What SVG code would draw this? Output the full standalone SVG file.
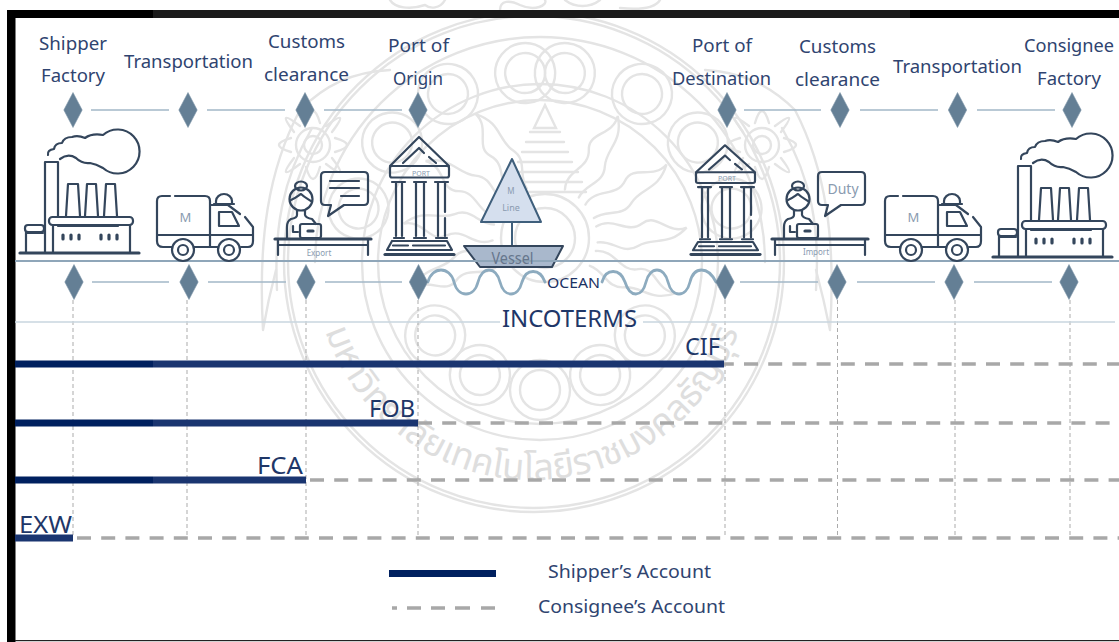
<svg xmlns="http://www.w3.org/2000/svg" width="1119" height="642" viewBox="0 0 1119 642">
<style>
text{font-family:"Noto Sans","Liberation Sans",sans-serif}
.lb{font-size:18px;fill:#2f4470;text-anchor:middle}
.inc{font-size:23px;fill:#1f3768}
.sm{fill:#8a9bb0;text-anchor:middle}
.ic{fill:none;stroke:#34465c;stroke-width:2.2;stroke-linecap:round;stroke-linejoin:round}
.ict{fill:none;stroke:#34465c;stroke-width:3.2;stroke-linecap:round;stroke-linejoin:round}
.dm{fill:#647f95;stroke:#7f97a9;stroke-width:.6}
.tie{stroke:#a3b8c8;stroke-width:1.6;fill:none}
.drop{stroke:#ababab;stroke-width:1;stroke-dasharray:4 3;fill:none}
.dash{stroke:#a8a8a8;stroke-width:3.4;stroke-dasharray:14 10.2;fill:none}
.wm{fill:none;stroke:#e4e4e4;stroke-width:2.4;stroke-linecap:round}
.wave{fill:none;stroke:#8dabbf;stroke-width:2.8;stroke-linecap:round}
</style>
<defs>
<polygon id="d" class="dm" points="0,-17.500 9.200,0 0,17.500 -9.200,0"/>
<path id="flame" d="M-7,-52C-16,-70 4,-82 -6,-98C-16,-114 8,-122 2,-142C20,-122 8,-108 16,-92C24,-76 8,-68 9,-52"/>
<g id="lobe"><circle r="30"/><circle r="20"/></g>
<g id="flower"><circle r="17"/><circle r="9"/><path d="M-7,-22Q0,-46 7,-22M-7,22Q0,46 7,22M-22,-7Q-46,0 -22,7M22,-7Q46,0 22,7M-19,-13Q-38,-38 -13,-19M19,-13Q38,-38 13,-19M-19,13Q-38,38 -13,19M19,13Q38,38 13,19"/></g>
<g id="factory">
<path class="ict" d="M20,253H139"/>
<path class="ic" d="M45,252V162H58V217M66,216L68,184H78L80,216M85,216L87,184H96L98,216M104,216L106,184H115L117,216"/>
<rect class="ic" x="49" y="217" width="84" height="8" rx="3.500"/>
<path class="ic" d="M53,225V252M130,225V252M58,226H118M26,232V252M43,233H27"/>
<rect class="ic" x="25" y="225" width="19" height="7" rx="3"/>
<path class="ict" d="M63,235v4M71,235v4M79,235v4M101,235v4M109,235v4M117,235v4"/>
<path class="ic" d="M48,155Q47,150 54,149Q55,143 62,143Q64,137 72,137Q78,135 85,138Q92,133 103,135A22,22 0 1 1 103,168Q96,164 90,163Q82,164 76,158Q68,153 60,159"/>
</g>
<g id="truck">
<path class="ic" d="M175,196H205Q210,196 210,201V247M170,196H162Q157,196 157,201V241Q157,247 163,247H172M157,235H252M194,247H218M210,205H228L240,214M245,217L253,227V241Q253,247 248,247H241"/>
<path class="ic" d="M219,212H232L239,226H219ZM216,204V201A8,7 0 0 1 232,201V204M214,204H234"/>
<circle class="ic" cx="183" cy="250" r="11"/><circle class="ic" cx="183" cy="250" r="5"/>
<circle class="ic" cx="229" cy="250" r="11"/><circle class="ic" cx="229" cy="250" r="5"/>
<text class="sm" x="185.500" y="222" font-size="13">M</text>
</g>
<g id="person">
<path class="ict" d="M275,239H371"/>
<path class="ic" d="M278,245H368M278,240V255M368,240V255"/>
<circle class="ic" cx="301" cy="199" r="11.500"/>
<ellipse class="ic" cx="301" cy="186" rx="6" ry="4.500"/>
<path class="ic" d="M291,200C296,198 299,195 301,194C304,197 308,199 311,201M297,210V215Q297,218 291,219Q287,221 287,227V238M305,210V215Q306,218 312,219L316,224M293,226V232H298"/>
<rect class="ic" x="300" y="224" width="21" height="14" rx="2"/>
<path class="ict" d="M308,231H313"/>
<path class="ic" d="M325,172H364Q368,172 368,176V201Q368,205 364,205H344L328,216L331,205H325Q321,205 321,201V176Q321,172 325,172Z"/>
</g>
<g id="port">
<path class="ic" d="M390,166L419,137L449,166M403,163L419,148L424,153M429,157L436,163"/>
<rect class="ic" x="390" y="166" width="59" height="11.500" rx="2"/>
<path class="ic" d="M392,182H405M414,182H426M435,182H448M396,183V236M402,183V236M416,183V236M424,183V236M438,183V236M445,183V212M445,218V236M394,238H404M414,238H426M436,238H447"/>
<path class="ic" d="M392,241L387,250H452L447,241H392M393,245.500H408M413,245.500H445"/>
<path class="ict" d="M385,254.500H454"/>
</g>
</defs>

<rect width="1119" height="642" fill="#fff"/>
<g id="watermark" class="wm">
<circle cx="540" cy="262" r="162"/>
<circle cx="540" cy="262" r="178"/>
<path d="M315,262A225,225 0 0 1 765,262"/>
<circle cx="534" cy="262" r="246"/>
<circle cx="534" cy="262" r="250"/>
<circle cx="545" cy="238" r="44"/>
<circle cx="545" cy="238" r="30"/>
<g transform="translate(545 238)">
<use href="#flame" transform="rotate(-30)"/><use href="#flame" transform="rotate(30)"/>
<use href="#flame" transform="rotate(-58)"/><use href="#flame" transform="rotate(58)"/>
<use href="#flame" transform="rotate(-85)"/><use href="#flame" transform="rotate(85)"/>
<use href="#flame" transform="rotate(-112)"/><use href="#flame" transform="rotate(112)"/>
</g>
<path d="M545,105L534,128H556ZM530,132H560M526,142H564M522,152H568M518,162H572M512,172H578M508,182H582M504,192H586"/>
<g transform="translate(545 262)">
<use href="#lobe" transform="rotate(-6) translate(0 -190)"/><use href="#lobe" transform="rotate(6) translate(0 -190)"/>
<use href="#lobe" transform="rotate(-30) translate(0 -194)"/><use href="#lobe" transform="rotate(30) translate(0 -194)"/>
<use href="#lobe" transform="rotate(-52) translate(0 -194)"/><use href="#lobe" transform="rotate(52) translate(0 -194)"/>
<use href="#lobe" transform="rotate(-74) translate(0 -194)"/><use href="#lobe" transform="rotate(74) translate(0 -194)"/>
</g>
<g transform="translate(540 262)">
<use href="#lobe" transform="rotate(-125) translate(0 -128)"/><use href="#lobe" transform="rotate(125) translate(0 -128)"/>
<use href="#lobe" transform="rotate(-152) translate(0 -128)"/><use href="#lobe" transform="rotate(152) translate(0 -128)"/>
<use href="#lobe" transform="rotate(180) translate(0 -128)"/>
</g>
<use href="#flower" x="313" y="145"/>
<use href="#flower" x="762" y="145"/>
<path d="M263,330C258,240 268,170 300,110C325,85 352,72 390,70M830,330C836,240 826,170 795,110C770,85 742,72 705,70M263,330Q268,300 276,270M830,330Q824,300 816,270"/>
<path d="M277,290C274,230 282,180 312,128M816,290C820,230 812,180 782,128"/>
<path d="M390,0C395,8 410,10 425,5M425,5C430,9 440,9 445,0M500,10C500,0 510,0 520,5C535,12 548,5 545,0M565,0C575,8 590,8 600,0M620,8C640,10 655,8 660,0"/>
<path id="wmarc" d="M314,262A218,218 0 0 0 750,262" stroke="none"/>
<text font-size="36" style="font-family:'Noto Sans Thai','Noto Sans','DejaVu Sans',sans-serif;fill:#dedede;stroke:none" text-anchor="middle"><textPath href="#wmarc" startOffset="50%">มหาวิทยาลัยเทคโนโลยีราชมงคลธัญบุรี</textPath></text>
</g>

<g id="frame">
<rect x="7" y="10" width="1112" height="8" fill="#000"/>
<rect x="153" y="10" width="757" height="8" fill="#1b1b1b"/>
<rect x="7" y="10" width="8.500" height="632" fill="#000"/>
<rect x="15" y="640" width="1104" height="1.200" fill="#222"/>
</g>

<g id="connectors">
<path class="drop" d="M73,300V538M187,300V538M306,300V538M418,300V538M725,300V538M837.500,300V538M955,300V538M1070,300V538"/>
<path class="tie" d="M91,110H169M207,110H285M324,110H402M744,110H821M860,110H938M977,110H1055"/>
<path class="tie" d="M92,282H169M208,282H286M325,282H402M740,282H818M857,282H935M974,282H1052"/>
<path d="M15,261H1119" stroke="#8fa6b9" stroke-width="1.800" fill="none"/>
<path d="M15,322H500M643,322H1115" stroke="#c9d6e0" stroke-width="1.400" fill="none"/>
<path class="wave" d="M428,282C432,266 450,266 454,282C458,298 474,298 478,282C482,266 496,266 500,282C504,298 518,298 522,282C526,268 540,268 545,282"/>
<path class="wave" d="M602,282C606,268 620,268 625,282C630,298 642,298 646,282C650,266 664,266 668,282C672,298 686,298 690,282C694,266 708,266 716,282"/>
<path class="dash" d="M77,538H1119"/>
<path class="dash" d="M306,480H1119" stroke-dashoffset="-4"/>
<path class="dash" d="M418,423H1119"/>
<path class="dash" d="M724,364H1119" stroke-dashoffset="-20"/>
<path d="M15,364H153M15,423H153M15,480H153" stroke="#00205f" stroke-width="7" fill="none"/>
<path d="M153,364H724M153,423H418M153,480H306" stroke="#1a3570" stroke-width="7" fill="none"/>
<path d="M15,538H73" stroke="#1a3570" stroke-width="7" fill="none"/>
</g>

<g id="n-shipper"><use href="#d" x="73" y="110"/><use href="#factory"/><use href="#d" x="74" y="282"/>
<text class="lb" x="73" y="50" textLength="68" lengthAdjust="spacingAndGlyphs">Shipper</text><text class="lb" x="73" y="82" textLength="64" lengthAdjust="spacingAndGlyphs">Factory</text></g>
<g id="n-transport1"><use href="#d" x="188" y="110"/><use href="#truck"/><use href="#d" x="189" y="282"/>
<text class="lb" x="188.500" y="68" textLength="129" lengthAdjust="spacingAndGlyphs">Transportation</text></g>
<g id="n-customs1"><use href="#d" x="305" y="110"/><use href="#person"/>
<path class="ic" d="M330,181H359M330,188H359M341,196H359"/>
<text class="sm" x="319" y="256" font-size="8">Export</text><use href="#d" x="306" y="282"/>
<text class="lb" x="306.500" y="48" textLength="77" lengthAdjust="spacingAndGlyphs">Customs</text><text class="lb" x="306.500" y="81" textLength="85" lengthAdjust="spacingAndGlyphs">clearance</text></g>
<g id="n-origin"><use href="#d" x="418" y="110"/><use href="#port"/><text class="sm" x="421" y="176" font-size="7">PORT</text><use href="#d" x="418.500" y="282"/>
<text class="lb" x="418.500" y="52" textLength="61" lengthAdjust="spacingAndGlyphs">Port of</text><text class="lb" x="418" y="85" textLength="50" lengthAdjust="spacingAndGlyphs">Origin</text></g>
<g id="n-vessel">
<polygon points="512,159 481,222 541,222" fill="#d5dfee" stroke="#3f5f7c" stroke-width="2" stroke-linejoin="round"/>
<path d="M512,222V246" stroke="#3f5f7c" stroke-width="2" fill="none"/>
<polygon points="464,246 563,246 552,267 480,267" fill="#a9b8cc" stroke="#34465c" stroke-width="2" stroke-linejoin="round"/>
<path d="M470,261H557" stroke="#8fa6b9" stroke-width="1.800"/>
<text class="sm" x="511" y="194" font-size="8">M</text><text class="sm" x="511" y="211" font-size="9">Line</text>
<text x="512.500" y="264" font-size="16" text-anchor="middle" fill="#66768c" textLength="42" lengthAdjust="spacingAndGlyphs">Vessel</text></g>
<g id="n-destination"><use href="#d" x="727" y="110"/><g transform="translate(725 255) scale(1 .93) translate(-419 -255)"><use href="#port"/></g><text class="sm" x="727" y="181" font-size="7">PORT</text><use href="#d" x="725" y="282"/>
<text class="lb" x="722" y="52" textLength="60" lengthAdjust="spacingAndGlyphs">Port of</text><text class="lb" x="721.500" y="85" textLength="99" lengthAdjust="spacingAndGlyphs">Destination</text></g>
<g id="n-customs2"><use href="#d" x="840" y="110"/><use href="#person" x="497"/>
<text class="sm" x="843" y="194" font-size="14">Duty</text><text class="sm" x="816" y="255" font-size="8">Import</text><use href="#d" x="837" y="282"/>
<text class="lb" x="837.500" y="53" textLength="77" lengthAdjust="spacingAndGlyphs">Customs</text><text class="lb" x="837.500" y="86" textLength="85" lengthAdjust="spacingAndGlyphs">clearance</text></g>
<g id="n-transport2"><use href="#d" x="957.500" y="110"/><use href="#truck" x="728"/><use href="#d" x="954" y="282"/>
<text class="lb" x="957.500" y="73" textLength="129" lengthAdjust="spacingAndGlyphs">Transportation</text></g>
<g id="n-consignee"><use href="#d" x="1072" y="110"/><use href="#factory" x="973" y="4"/><use href="#d" x="1069" y="282"/>
<text class="lb" x="1069" y="52" textLength="90" lengthAdjust="spacingAndGlyphs">Consignee</text><text class="lb" x="1069" y="85" textLength="64" lengthAdjust="spacingAndGlyphs">Factory</text></g>

<g id="labels">
<text x="573.500" y="288" font-size="15" text-anchor="middle" fill="#1c3264" textLength="53" lengthAdjust="spacingAndGlyphs">OCEAN</text>
<text class="inc" x="569.500" y="327" text-anchor="middle" textLength="135" lengthAdjust="spacingAndGlyphs">INCOTERMS</text>
<text class="inc" x="702.500" y="355" text-anchor="middle" textLength="35" lengthAdjust="spacingAndGlyphs">CIF</text>
<text class="inc" x="392" y="417" text-anchor="middle" textLength="46" lengthAdjust="spacingAndGlyphs">FOB</text>
<text class="inc" x="280" y="474" text-anchor="middle" textLength="46" lengthAdjust="spacingAndGlyphs">FCA</text>
<text class="inc" x="45.500" y="533" text-anchor="middle" textLength="53" lengthAdjust="spacingAndGlyphs">EXW</text>
</g>

<g id="legend">
<path d="M389,573.500H496" stroke="#00205f" stroke-width="7" fill="none"/>
<path d="M392,608H397M407,608H421M431,608H445M455,608H470M481,608H495" stroke="#a8a8a8" stroke-width="3.400" fill="none"/>
<text class="lb" x="629.500" y="578" textLength="163" lengthAdjust="spacingAndGlyphs">Shipper’s Account</text>
<text class="lb" x="631.500" y="613" textLength="187" lengthAdjust="spacingAndGlyphs">Consignee’s Account</text>
</g>
</svg>
